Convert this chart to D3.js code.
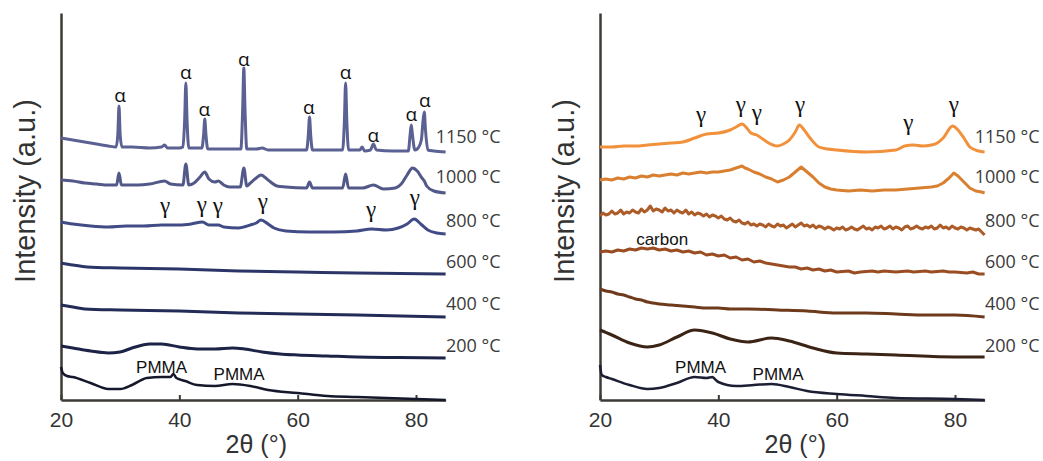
<!DOCTYPE html>
<html>
<head>
<meta charset="utf-8">
<script src="https://cdn.jsdelivr.net/npm/d3@7"></script>
<style>
  body { margin: 0; background: #fff; }
  .temp-label { font-family: "Open Sans", sans-serif; font-size: 18px; fill: #3b3b3b; }
  .alpha-label { font-family: "Open Sans", sans-serif; font-size: 19px; fill: #111; }
  .gamma-label { font-family: "Liberation Serif", serif; font-size: 23px; fill: #111; }
  .note-label { font-family: "Liberation Sans", Arial, sans-serif; font-size: 17px; fill: #111; }
  .axis-title { font-family: "Liberation Sans", Arial, sans-serif; fill: #333; }
  .tick text { font-family: "Liberation Sans", Arial, sans-serif; font-size: 21px; fill: #333; }
</style>
</head>
<body>
<div class="xrd-viz"></div>
<script>
// 2theta range and tick labels
const thetaRange = [20, 85];
const xTicks = [20, 40, 60, 80];
const temps = ["1150 °C", "1000 °C", "800 °C", "600 °C", "400 °C", "200 °C"];
const tempLevels = [257, 217, 173, 132, 90, 48];

// left panel (blue) patterns, [2theta, intensity a.u.]
const left1150 = [[20,262],[21,261],[22,260],[24,258],[26,256],[28,254],[29.3,253],[29.6,265],[29.8,294],[30.0,265],[30.3,253],[32,253],[35,252],[37,253],[37.5,255],[38,252],[40,252],[40.6,253],[40.9,280],[41.1,317],[41.3,280],[41.6,252],[43.8,252],[44.1,265],[44.3,281],[44.5,265],[44.8,251],[48,251],[50.4,251],[50.7,290],[50.9,332],[51.1,290],[51.4,251],[53,251],[54,252],[55,250],[58,250],[61.5,250],[61.8,265],[62.0,283],[62.2,265],[62.5,250],[65,250],[67.6,250],[67.9,280],[68.1,317],[68.3,280],[68.6,250],[70.5,250],[70.9,253],[71.3,249],[72.3,250],[72.8,256],[73.3,250],[76,249],[78.7,249],[79.0,265],[79.2,275],[79.4,265],[79.8,250],[80.2,251],[80.9,260],[81.2,280],[81.4,288],[81.6,270],[82,250],[83,249],[85,248]];
const left1000 = [[20,220],[22,219],[24,217],[26,216],[28,215],[29.4,215],[29.8,227],[30.2,215],[33,215],[35,216],[37.5,219],[38.5,216],[40.6,215],[41.1,236],[41.6,215],[42.5,217],[43.5,223],[44.3,228],[45,221],[46,218],[46.6,219],[47.5,215],[48.5,213],[50.3,213],[50.9,232],[51.4,214],[52,217],[53,222],[53.8,225],[55,220],[56.5,214],[58,213],[61.5,212],[62,218],[62.5,212],[65,212],[67.6,212],[68.1,226],[68.6,212],[71,212],[72.8,215],[74.5,211],[76.5,212],[77.5,216],[78.5,225],[79.4,232],[80.2,229],[81,222],[81.4,219],[81.8,214],[83,209],[85,207]];
const left800 = [[20,178],[22,176],[25,174],[28,173],[31,174],[34,174],[37,175],[40,175],[42,176],[43.9,178],[45,175],[46.6,175],[47.5,173],[50,172],[52,175],[53,177],[53.8,180],[55,176],[56,172],[58,169],[62,168],[66,168],[70,169],[72.5,171],[75,170],[77,172],[78.5,176],[79.7,181],[80.8,176],[82,170],[83.5,167],[85,166]];
const left600 = [[20,137],[22,135],[24.4,133],[30,132],[40,131],[50,129],[60,128],[70,127],[85,126]];
const left400 = [[20,95],[22,93],[24,91],[30,90],[40,89],[50,87],[60,86],[70,85],[85,83]];
const left200 = [[20,54],[22,52],[25,49],[28,47],[30,48],[32,52],[35,56],[37,56],[40,53],[43,51],[46,51],[49,52],[51,51],[54,48],[57,46],[60,45],[65,44],[70,43],[77,42.5],[85,42]];
const leftPmma = [[20,33],[20.3,27],[21,24],[22,23],[25,17],[28,11],[30,11],[32,15],[34.5,22],[37,23],[38.5,23],[39,26],[39.5,22],[41,19],[43,15],[46,14],[49,16],[52,14],[55,10],[60,7],[65,4],[70,3],[80,1],[85,0]];

// right panel (orange/brown) patterns
const right1150 = [[20,253],[22,253],[24,254],[26,254],[28,255],[30,256],[32,257],[34,258],[36,262],[38,266],[40,267],[42,270],[43,273],[44,276],[44.8,272],[45.5,267],[46.5,265],[47.5,261],[48.5,257],[50,254],[51,256],[52,260],[53,268],[53.7,275],[54.5,270],[55.5,262],[57,253],[58.5,251],[60,250],[65,248],[70,250],[71.5,254],[73,255],[74.5,254],[76,255],[77,257],[78,262],[79.6,274],[80.5,270],[81.5,262],[82.5,253],[84,249],[85,248]];
const right1000 = [[20,220],[21,221],[22,220],[23,222],[24,221],[25,223],[26,222],[27,224],[28,223],[29,225],[30,224],[31,225],[32,226],[33,225],[34,227],[35,226],[36,227],[37,228],[38,227],[39,228],[40,228],[41,229],[42,230],[43,232],[44,234],[44.5,232],[45,231],[46,228],[47,226],[48,223],[49,221],[50,218],[51,220],[52,223],[53,228],[54,233],[55,228],[56,223],[57,217],[58,213],[59,211],[60,210],[62,209],[64,210],[66,209],[68,210],[70,210],[72,211],[74,212],[76,213],[77,214],[78,217],[79,222],[79.8,227],[80.5,224],[81.5,218],[82.5,212],[83.5,209],[84.5,208],[85,207]];
const right800 = [[20,184],[20.5,187],[21,185],[21.5,186],[22,189],[22.5,186],[23,187],[23.5,190],[24,186],[24.5,188],[25,187],[25.5,190],[26,188],[26.5,187],[27,191],[27.5,188],[28,190],[28.5,194],[29,189],[29.5,191],[30,190],[30.5,188],[31,192],[31.5,189],[32,190],[32.5,187],[33,190],[33.5,188],[34,187],[34.5,190],[35,186],[35.5,188],[36,185],[36.5,187],[37,186],[37.5,184],[38,186],[38.5,183],[39,185],[39.5,184],[40,182],[40.5,184],[41,181],[41.5,180],[42,182],[42.5,179],[43,178],[43.5,180],[44,177],[44.5,176],[45,178],[45.5,175],[46,176],[46.5,174],[47,176],[47.5,175],[48,173],[48.5,176],[49,174],[49.5,173],[50,176],[50.5,174],[51,175],[51.5,172],[52,174],[52.5,176],[53,173],[53.5,175],[54,177],[54.5,174],[55,175],[55.5,173],[56,175],[56.5,172],[57,174],[57.5,173],[58,171],[58.5,173],[59,172],[59.5,170],[60,172],[60.5,171],[61,173],[61.5,170],[62,171],[62.5,173],[63,171],[63.5,170],[64,172],[64.5,174],[65,171],[65.5,172],[66,170],[66.5,173],[67,172],[67.5,174],[68,171],[68.5,172],[69,174],[69.5,171],[70,173],[70.5,172],[71,170],[71.5,173],[72,174],[72.5,171],[73,172],[73.5,174],[74,172],[74.5,171],[75,173],[75.5,172],[76,174],[76.5,171],[77,172],[77.5,175],[78,172],[78.5,173],[79,171],[79.5,174],[80,172],[80.5,171],[81,173],[81.5,172],[82,170],[82.5,172],[83,171],[83.5,170],[84,171],[84.5,168],[85,165]];
const right600 = [[20,148],[21,149],[22,148],[23,150],[24,149],[25,151],[26,150],[27,152],[28,151],[29,152],[30,150],[31,151],[32,149],[33,150],[34,148],[35,149],[36,147],[37,148],[38,145],[39,146],[40,144],[41,145],[42,142],[43,143],[44,140],[45,141],[46,138],[47,139],[48,137],[49,136],[50,135],[51,134],[52,133],[53,133],[54,131],[55,132],[56,130],[57,131],[58,129],[59,130],[60,128],[62,129],[63,127],[64,128],[66,129],[67,128],[68,129],[70,128],[72,129],[73,128],[75,129],[76,128],[78,129],[79,128],[80,128],[82,127],[83,128],[84,126],[85,126]];
const right400 = [[20,111],[21,109],[22,108],[23,106],[24,105],[25,103],[26,101],[27,100],[28,98],[29,97],[30,96],[32,95],[34,94],[36,93],[38,92],[40,92],[42,91],[45,91],[50,90],[55,89],[60,87],[65,87],[70,86],[75,85],[80,85],[85,83]];
const right200 = [[20,70],[22,65],[25,57],[28,53],[30,55],[33,63],[36,70],[39,67],[42,61],[45,58],[49,62],[52,59],[56,52],[60,47],[65,46],[70,45],[80,43],[85,43]];
const rightPmma = [[20,35],[20.3,25],[21,23],[22,21],[25,15],[28,11],[30,12],[33,17],[36,23],[38,22],[39,23],[39.4,21],[40,18],[43,14],[46,15],[49,16],[52,13],[55,9],[60,6],[65,4],[70,2],[80,1],[85,0]];

const leftColors = ["#5b6193", "#525989", "#414c86", "#2c3567", "#232b57", "#1d2347", "#15182b"];
const rightColors = ["#f2913b", "#d88030", "#ad5c28", "#9a4c22", "#6e3a1b", "#3b2415", "#1c1f33"];
// noisy right-panel scans are drawn without smoothing
const rightJagged = [false, true, true, true, false, false, false];
const leftJagged = [false, false, false, false, false, false, false];

// peak labels
const alphaTheta = [30.0, 41.1, 44.2, 50.9, 61.9, 68.1, 72.8, 79.2, 81.5];
const alphaLevel = [298, 321, 284, 334, 286, 321, 258, 279, 293];
const gammaLeftTheta = [37.6, 43.8, 46.5, 54.1, 72.4, 79.8];
const gammaLeftLevel = [187, 188, 187, 191, 183, 195];
const gammaRightTheta = [37.1, 43.8, 46.5, 53.8, 72.1, 79.8];
const gammaRightLevel = [278, 288, 280, 288, 270, 288];
const pmmaTheta = [37.0, 50.1];
const pmmaLevel = [27, 20];
const carbonTheta = 30.5;
const carbonLevel = 155;
const labelTheta = 94.3;

const W = 1043, H = 461;
const svg = d3.select(".xrd-viz")
  .append("svg")
  .attr("width", W)
  .attr("height", H);

const y = d3.scaleLinear()
  .domain([0, 387])
  .range([400, 13]);

function drawPanel(x0, series, colors, jagged, gThetas, gLevels) {
  const x = d3.scaleLinear()
    .domain(thetaRange)
    .range([x0, x0 + 65 * 5.917]);

  const g = svg.append("g");

  // axes
  const yAxis = g.append("g")
    .attr("transform", `translate(${x0},0)`)
    .call(d3.axisLeft(y).tickValues([]).tickSizeOuter(0));
  yAxis.select(".domain").attr("stroke", "#3d3a36").attr("stroke-width", 2.5);

  const xAxis = g.append("g")
    .attr("transform", `translate(0,${y(0)})`)
    .call(d3.axisBottom(x).tickValues(xTicks).tickSize(-5).tickSizeOuter(0).tickPadding(12));
  xAxis.select(".domain").attr("stroke", "#3d3a36").attr("stroke-width", 2.5);
  xAxis.selectAll(".tick line").attr("stroke", "#3d3a36").attr("stroke-width", 2);

  // lines
  const smooth = d3.line()
    .x(d => x(d[0]))
    .y(d => y(d[1]))
    .curve(d3.curveMonotoneX);
  const rough = d3.line()
    .x(d => x(d[0]))
    .y(d => y(d[1]));

  g.selectAll("path.pattern")
    .data(series)
    .enter()
    .append("path")
    .attr("class", "pattern")
    .attr("d", (d, i) => jagged[i] ? rough(d) : smooth(d))
    .attr("fill", "none")
    .attr("stroke", (d, i) => colors[i])
    .attr("stroke-width", (d, i) => i === 6 ? 2.5 : 3)
    .attr("stroke-linejoin", "round");

  // temperature labels
  g.selectAll("text.temp-label")
    .data(temps)
    .enter()
    .append("text")
    .attr("class", "temp-label")
    .attr("x", x(labelTheta))
    .attr("y", (d, i) => y(tempLevels[i]))
    .attr("text-anchor", "end")
    .text(d => d);

  // gamma labels
  g.selectAll("text.gamma-label")
    .data(gThetas)
    .enter()
    .append("text")
    .attr("class", "gamma-label")
    .attr("x", d => x(d))
    .attr("y", (d, i) => y(gLevels[i]))
    .attr("text-anchor", "middle")
    .text("γ");

  // PMMA labels
  g.selectAll("text.pmma")
    .data(pmmaTheta)
    .enter()
    .append("text")
    .attr("class", "note-label pmma")
    .attr("x", d => x(d))
    .attr("y", (d, i) => y(pmmaLevel[i]))
    .attr("text-anchor", "middle")
    .text("PMMA");

  // axis titles
  g.append("text")
    .attr("class", "axis-title")
    .attr("x", (x.range()[0] + x.range()[1]) / 2 + 3)
    .attr("y", 453)
    .attr("text-anchor", "middle")
    .style("font-size", "25px")
    .text("2θ (°)");

  g.append("text")
    .attr("class", "axis-title")
    .attr("transform", `translate(${x0 - 26},${191}) rotate(-90)`)
    .attr("text-anchor", "middle")
    .style("font-size", "29px")
    .text("Intensity (a.u.)");

  return x;
}

const xl = drawPanel(61, [left1150, left1000, left800, left600, left400, left200, leftPmma], leftColors, leftJagged, gammaLeftTheta, gammaLeftLevel);
const xr = drawPanel(600, [right1150, right1000, right800, right600, right400, right200, rightPmma], rightColors, rightJagged, gammaRightTheta, gammaRightLevel);

// alpha labels, left panel only
svg.selectAll("text.alpha-label")
  .data(alphaTheta)
  .enter()
  .append("text")
  .attr("class", "alpha-label")
  .attr("x", d => xl(d))
  .attr("y", (d, i) => y(alphaLevel[i]))
  .attr("text-anchor", "middle")
  .text("α");

// carbon label, right panel
svg.append("text")
  .attr("class", "note-label")
  .attr("x", xr(carbonTheta))
  .attr("y", y(carbonLevel))
  .attr("text-anchor", "middle")
  .text("carbon");
</script>
</body>
</html>
